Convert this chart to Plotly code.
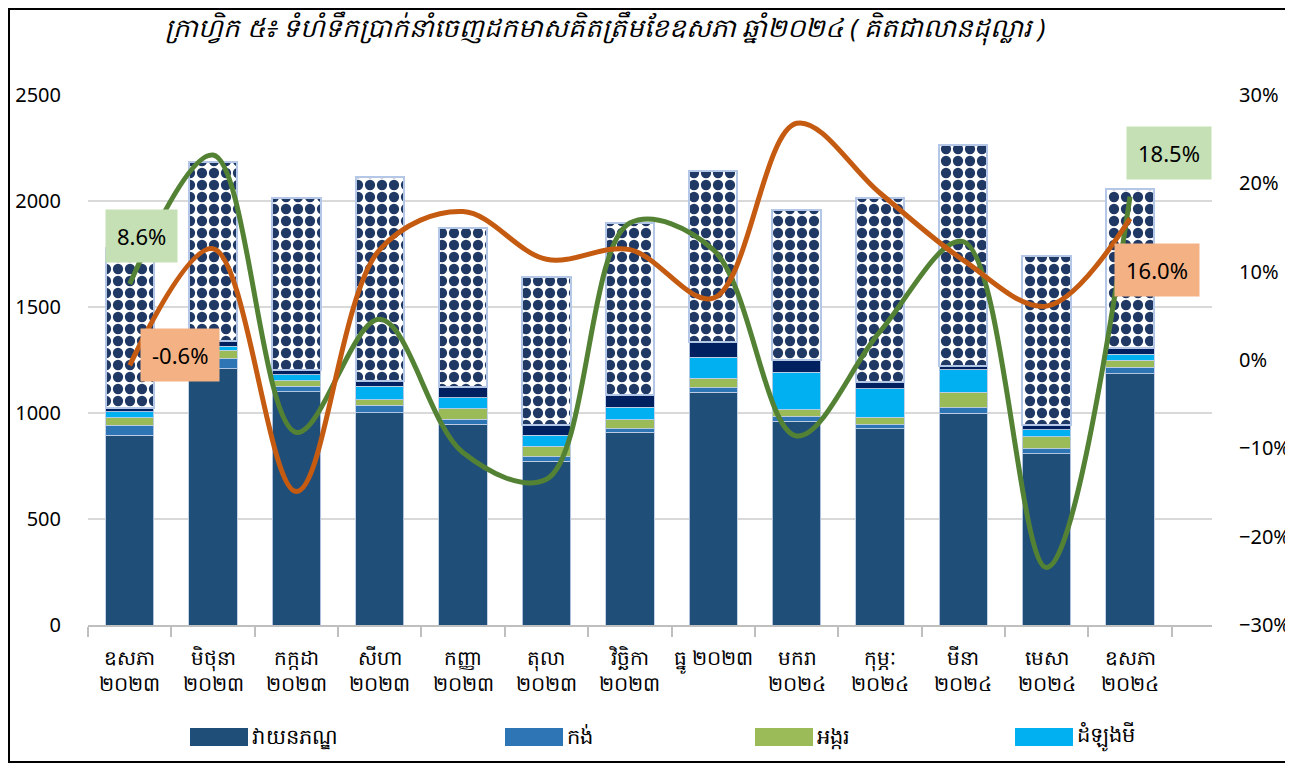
import plotly.graph_objects as go

categories = ["ឧសភា<br>២០២៣", "មិថុនា<br>២០២៣", "កក្កដា<br>២០២៣", "សីហា<br>២០២៣",
              "កញ្ញា<br>២០២៣", "តុលា<br>២០២៣", "វិច្ឆិកា<br>២០២៣", "ធ្នូ ២០២៣<br> ",
              "មករា<br>២០២៤", "កុម្ភៈ<br>២០២៤", "មីនា<br>២០២៤", "មេសា<br>២០២៤", "ឧសភា<br>២០២៤"]

textile = [895, 1208, 1100, 1001, 948, 772, 909, 1099, 961, 925, 1000, 807, 1185]
bicycle = [47, 49, 26, 35, 22, 21, 16, 20, 21, 20, 24, 25, 30]
rice = [36, 39, 26, 27, 49, 50, 44, 45, 34, 35, 73, 55, 34]
cassava = [27, 19, 28, 63, 54, 52, 58, 99, 176, 135, 107, 35, 27]
other_a = [17, 27, 25, 27, 52, 48, 60, 73, 60, 33, 20, 23, 32]
other_b = [758, 843, 811, 958, 750, 697, 810, 806, 706, 864, 1042, 795, 750]

growth_green = [8.6, 23.2, -8.2, 4.6, -10.5, -13.5, 15.5, 12.5, -8.6, 3.2, 13.4, -23.5, 18.5]
growth_orange = [-0.6, 12.6, -14.9, 12.5, 16.8, 11.4, 12.5, 7.0, 26.8, 18.9, 11.3, 6.1, 16.0]

legend_names = ["វាយនភណ្ឌ", "កង់", "អង្ករ", "ដំឡូងមី"]
title_text = "ក្រាហ្វិក ៥៖ ទំហំទឹកប្រាក់នាំចេញដកមាសគិតត្រឹមខែឧសភា ឆ្នាំ២០២៤ ( គិតជាលានដុល្លារ )"

FONT = "Noto Sans, DejaVu Sans, sans-serif"
edge = dict(color="rgba(190,205,230,0.9)", width=1)
colors = ["#1F4E79", "#2E75B6", "#9BBB59", "#00B0F0", "#002060"]

# page has an 8px body margin: figure is sized so that it fills the window
W, H = 1285, 756
L, R, T, B = 80, 81, 87, 139
pw, ph = W - L - R, H - T - B
OX, OY = 88, 625  # plot-area origin in window pixels


def px(x):
    return (x - OX) / pw


def py(y):
    return (OY - y) / ph


fig = go.Figure()
series = [textile, bicycle, rice, cassava, other_a]
names = legend_names + ["other_a"]
for vals, name, col in zip(series, names, colors):
    fig.add_trace(go.Bar(x=categories, y=vals, name=name, marker=dict(color=col, line=edge),
                         showlegend=False))
fig.add_trace(go.Bar(x=categories, y=other_b, name="other_b", showlegend=False,
                     marker=dict(color="white",
                                 line=dict(color="#B4C7E7", width=2),
                                 pattern=dict(shape=".", fgcolor="#1F3864", bgcolor="white",
                                              fgopacity=1, size=12, solidity=0.58,
                                              fillmode="replace"))))

fig.add_trace(go.Scatter(x=categories, y=growth_green, yaxis="y2", mode="lines",
                         line=dict(color="#548235", width=5, shape="spline", smoothing=1.0),
                         showlegend=False, name="green"))
fig.add_trace(go.Scatter(x=categories, y=growth_orange, yaxis="y2", mode="lines",
                         line=dict(color="#C55A11", width=5, shape="spline", smoothing=1.0),
                         showlegend=False, name="orange"))


def lab(i, s, bg, xs, ys):
    return dict(x=categories[i], y=s[i], xref="x", yref="y2",
                text=f"{s[i]:.1f}%", showarrow=False, xshift=xs, yshift=ys,
                bgcolor=bg, borderpad=11, font=dict(size=22, color="black", family=FONT))


annotations = [
    lab(0, growth_green, "#C5E0B4", 12, 48),
    lab(0, growth_orange, "#F4B183", 50, 10),
    lab(12, growth_green, "#C5E0B4", 39, 44),
    lab(12, growth_orange, "#F4B183", 27, -51),
    dict(text=title_text, x=px(163), y=py(28), xref="paper", yref="paper",
         xanchor="left", yanchor="middle", showarrow=False,
         font=dict(size=26, color="black", family=FONT, style="italic")),
]

shapes = [dict(type="rect", xref="paper", yref="paper", layer="above",
               x0=px(9), x1=px(1291), y0=py(762), y1=py(9),
               line=dict(color="black", width=2))]

# custom legend (large swatches like the original)
swatch_x = [190, 505, 755, 1015]
for name, col, sx in zip(legend_names, colors, swatch_x):
    shapes.append(dict(type="rect", xref="paper", yref="paper", x0=px(sx), x1=px(sx + 58),
                       y0=py(746), y1=py(728), fillcolor=col, line=dict(width=0)))
    annotations.append(dict(text=name, x=px(sx + 60), y=py(736), xref="paper", yref="paper",
                            xanchor="left", yanchor="middle", showarrow=False,
                            font=dict(size=21, color="black", family=FONT)))

fig.update_layout(
    width=W, height=H, barmode="stack", bargap=0.42,
    margin=dict(l=L, r=R, t=T, b=B, autoexpand=False),
    plot_bgcolor="white", paper_bgcolor="white",
    font=dict(family=FONT, color="black", size=18),
    showlegend=False,
    xaxis=dict(showline=True, linecolor="#BFBFBF", linewidth=1.5, ticks="outside",
               tickson="boundaries", ticklen=10, tickcolor="#BFBFBF", tickwidth=1.5,
               tickfont=dict(size=20), tickangle=0, showgrid=False, ticklabelstandoff=14),
    yaxis=dict(range=[0, 2500], dtick=500, showgrid=True, gridcolor="#D9D9D9", gridwidth=1.5,
               zeroline=False, tickfont=dict(size=20), ticklabelstandoff=26),
    yaxis2=dict(range=[-30, 30], dtick=10, overlaying="y", side="right", showgrid=False,
                zeroline=False, ticksuffix="%", tickfont=dict(size=20), ticklabelstandoff=26),
    annotations=annotations, shapes=shapes,
)

fig.write_html("out.html")
